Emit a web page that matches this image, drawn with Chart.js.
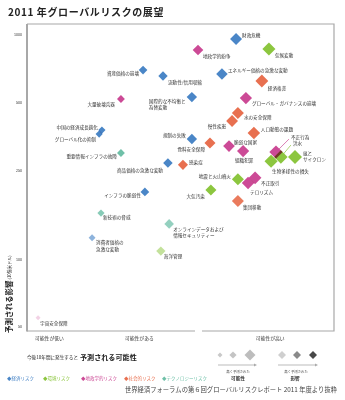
<!DOCTYPE html>
<html><head><meta charset="utf-8">
<script src="https://cdn.jsdelivr.net/npm/chart.js@4.4.1/dist/chart.umd.min.js"></script>
<style>html,body{margin:0;padding:0;background:#fff;overflow:hidden}#wrap{position:relative;width:345px;height:400px}</style>
</head><body><div id="wrap"><canvas id="c" width="345" height="400"></canvas></div>
<script>
// ---------- data ----------
const categories = ['経済リスク','環境リスク','地政学的リスク','社会的リスク','テクノロジーリスク'];

const economicRisks = ['財政危機','エネルギー価格の急激な変動','資産価格の崩壊','流動性/信用収縮','国際的な不均衡と\n為替変動','中国の経済成長鈍化','グローバル化の抑制','規制の失敗','商品価格の急激な変動','インフラの脆弱性','消費者価格の\n急激な変動'];
const economicLikelihood = [68.1,63.5,37.8,44.3,53.7,24.4,23.5,53.7,45.9,38.4,21.2];
const economicImpact = [960,670,698,657,529,377,362,344,269,200,125];

const environmentalRisks = ['気候変動','嵐と\nサイクロン','洪水','生物多様性の損失','地震と火山噴火','大気汚染','海洋管理'];
const environmentalLikelihood = [78.8,87.3,82.7,79.5,68.7,59.9,43.6];
const environmentalImpact = [866,286,286,274,228,204,109];

const geopoliticalRisks = ['地政学的紛争','グローバル・ガバナンスの崩壊','大量破壊兵器','脆弱な国家','組織犯罪','不正行為','不正取引','テロリズム','宇宙安全保障'];
const geopoliticalLikelihood = [55.7,71.3,30.6,65.8,70.4,81.1,74.3,72.0,3.6];
const geopoliticalImpact = [858,524,519,320,304,301,231,219,55];

const societalRisks = ['経済格差','水の安全保障','慢性疾患','人口動態の課題','食料安全保障','感染症','集団移動'];
const societalLikelihood = [76.5,68.7,66.8,73.9,59.6,50.8,68.7];
const societalImpact = [624,449,414,366,330,264,182];

const technologicalRisks = ['重要情報インフラの故障','新技術の脅威','オンラインデータおよび\n情報セキュリティー'];
const technologicalLikelihood = [30.6,24.1,46.3];
const technologicalImpact = [298,161,144];

const impactTicks = [50,100,250,500,1000];
const likelihoodTickLabels = ['可能性が低い','可能性がある','可能性が高い'];
const likelihoodTickValues = [7.3,36.6,79.2];

// ---------- layout / style (not data) ----------
const FONT = '"Noto Sans CJK JP","Noto Sans",sans-serif';
const baseColors = [[74,134,199],[140,198,63],[204,74,150],[232,112,80],[111,192,168]];
// label placement: [dx, dy, align, leader]
const placements = [
  [[6,-4,'l'],[6,-4,'l'],[-4,3,'r'],[5,6,'l'],[-43,4,'l'],[-4,-3,'r'],[-3,5,'r'],[-6,-4,'r'],[-5,7,'r'],[-4,3,'r'],[4,5,'l']],
  [[6,6,'l'],[8,-4,'l'],[12,-14,'l',1],[1,10,'l'],[-7,-3,'r'],[-6,6,'r'],[3,5,'l']],
  [[5,6,'l'],[6,5,'l'],[-6,5,'r'],[5,-4,'l'],[1,9,'c'],[15,-15,'l',1],[6,5,'l'],[2,9,'l'],[2,6,'l']],
  [[6,7,'l'],[6,4,'l'],[-6,5,'r'],[7,-4,'l'],[-5,6,'r'],[6,-3,'l'],[5,6,'l']],
  [[-4,3,'r'],[2,4,'l'],[4,5,'l']]
];

const names = [economicRisks,environmentalRisks,geopoliticalRisks,societalRisks,technologicalRisks];
const xs = [economicLikelihood,environmentalLikelihood,geopoliticalLikelihood,societalLikelihood,technologicalLikelihood];
const ys = [economicImpact,environmentalImpact,geopoliticalImpact,societalImpact,technologicalImpact];

function shade(ci, v){
  const w = Math.max(0.25, Math.min(1, (Math.log10(v)-1.75)/(2.3-1.75)));
  const c = baseColors[ci];
  return `rgba(${c[0]},${c[1]},${c[2]},${w.toFixed(3)})`;
}

const datasets = categories.map((cat,ci)=>({
  label: cat,
  data: names[ci].map((n,i)=>({x: xs[ci][i], y: ys[ci][i]})),
  pointStyle: 'rectRot',
  pointRadius: ctx => 2.3 + 0.054*ctx.raw.x,
  pointHoverRadius: ctx => 2.3 + 0.054*ctx.raw.x,
  backgroundColor: ctx => shade(ci, ctx.raw.y),
  borderWidth: 0
}));

function diamond(ctx,x,y,r,color){
  ctx.beginPath();ctx.moveTo(x-r,y);ctx.lineTo(x,y-r);ctx.lineTo(x+r,y);ctx.lineTo(x,y+r);ctx.closePath();
  ctx.fillStyle=color;ctx.fill();
}
function arrow(ctx,x1,x2,y){
  ctx.strokeStyle='#aaa';ctx.lineWidth=0.8;ctx.beginPath();ctx.moveTo(x1,y);ctx.lineTo(x2-2,y);ctx.stroke();
  ctx.fillStyle='#aaa';ctx.beginPath();ctx.moveTo(x2,y);ctx.lineTo(x2-3,y-1.6);ctx.lineTo(x2-3,y+1.6);ctx.closePath();ctx.fill();
}

const plugin = {
  id:'deco',
  beforeDatasetsDraw(chart){
    const ctx=chart.ctx, a=chart.chartArea;
    ctx.save();
    ctx.strokeStyle='#a8a8a8';ctx.lineWidth=1.2;
    ctx.beginPath();
    ctx.moveTo(a.left,a.top);ctx.lineTo(a.right,a.top);ctx.lineTo(a.right,a.bottom);ctx.lineTo(202,a.bottom);
    ctx.moveTo(195,a.bottom);ctx.lineTo(a.left,a.bottom);
    ctx.stroke();
    ctx.lineWidth=2;ctx.beginPath();ctx.moveTo(a.left,a.top);ctx.lineTo(a.left,a.bottom+0.5);ctx.stroke();
    ctx.restore();
    ctx.save();ctx.globalCompositeOperation='multiply';
  },
  afterDatasetsDraw(chart){
    const ctx=chart.ctx;
    ctx.restore();
    ctx.save();
    ctx.font=`4.6px ${FONT}`;ctx.fillStyle='#333';ctx.textBaseline='middle';
    chart.data.datasets.forEach((ds,ci)=>{
      const meta=chart.getDatasetMeta(ci);
      meta.data.forEach((pt,i)=>{
        const p=placements[ci][i];
        const lines=names[ci][i].split('\n');
        if(p[3]){
          const c=baseColors[ci];
          ctx.strokeStyle=`rgb(${c[0]},${c[1]},${c[2]})`;ctx.lineWidth=0.7;
          ctx.beginPath();ctx.moveTo(pt.x,pt.y);ctx.lineTo(pt.x+p[0]-2,pt.y+p[1]+2);ctx.stroke();
        }
        ctx.textAlign = p[2]==='l'?'left':(p[2]==='r'?'right':'center');
        lines.forEach((ln,k)=>ctx.fillText(ln, pt.x+p[0], pt.y+p[1]+k*6.5));
      });
    });
    ctx.restore();
  },
  afterDraw(chart){
    const ctx=chart.ctx, a=chart.chartArea;
    const xs_=chart.scales.x, ys_=chart.scales.y;
    ctx.save();
    // title
    ctx.textBaseline='middle';ctx.textAlign='left';ctx.fillStyle='#222';
    ctx.font=`bold 10px ${FONT}`;
    if('letterSpacing' in ctx) ctx.letterSpacing='0.6px';
    ctx.fillText('2011 年グローバルリスクの展望',8,12);
    if('letterSpacing' in ctx) ctx.letterSpacing='0px';
    // axis tick labels through scales
    ctx.fillStyle='#333';
    ctx.font=`3.6px ${FONT}`;ctx.textAlign='right';
    impactTicks.forEach(v=>ctx.fillText(String(v),a.left-5,ys_.getPixelForValue(v)));
    ctx.font=`4.8px ${FONT}`;ctx.textAlign='center';
    likelihoodTickValues.forEach((v,i)=>ctx.fillText(likelihoodTickLabels[i],xs_.getPixelForValue(v),338));
    ctx.restore();
    // y axis title
    ctx.save();
    ctx.translate(9,333);ctx.rotate(-Math.PI/2);
    ctx.textBaseline='middle';ctx.textAlign='left';ctx.fillStyle='#222';
    ctx.font=`bold 7.5px ${FONT}`;ctx.fillText('予測される影響',0,0);
    const w=ctx.measureText('予測される影響').width;
    ctx.font=`4.2px ${FONT}`;ctx.fillText('(10億米ドル)',w+1,0.3);
    ctx.restore();
    ctx.save();
    ctx.textBaseline='middle';ctx.textAlign='left';ctx.fillStyle='#222';
    // bottom caption
    ctx.font=`4.6px ${FONT}`;ctx.fillText('今後10年間に発生すると',27,357.5);
    ctx.font=`bold 7.1px ${FONT}`;ctx.fillText('予測される可能性',80,357);
    // legend
    const lx=[7,43,81,124,162];
    ctx.font=`4.5px ${FONT}`;
    categories.forEach((c,i)=>{const b=baseColors[i];ctx.fillStyle=`rgb(${b[0]},${b[1]},${b[2]})`;ctx.fillText('◆'+c,lx[i],378);});
    // source
    ctx.fillStyle='#444';ctx.textAlign='right';ctx.font=`6.3px ${FONT}`;
    ctx.fillText('世界経済フォーラムの第６回グローバルリスクレポート 2011 年度より抜粋',337,390);
    // size legend
    diamond(ctx,220,355,2.5,'#c9c9c9');diamond(ctx,233,355,3.6,'#c4c4c4');diamond(ctx,250,355,5.5,'#bdbdbd');
    diamond(ctx,282,355,4,'#cfcfcf');diamond(ctx,297,355,4,'#8a8a8a');diamond(ctx,313,355,4,'#484848');
    arrow(ctx,218,257,365);arrow(ctx,278,318,365);
    ctx.fillStyle='#333';ctx.textAlign='center';
    ctx.font=`3.4px ${FONT}`;ctx.fillText('高く予測された',238,372);ctx.fillText('高く予測された',296,372);
    ctx.font=`bold 4.6px ${FONT}`;ctx.fillText('可能性',238,378);ctx.fillText('影響',295,378);
    ctx.restore();
  }
};

new Chart(document.getElementById('c'),{
  type:'scatter',
  data:{datasets},
  plugins:[plugin],
  options:{
    responsive:false,animation:false,devicePixelRatio:1,
    layout:{padding:{left:8,right:11,top:24,bottom:57}},
    plugins:{legend:{display:false},tooltip:{enabled:false},title:{display:false}},
    scales:{
      x:{type:'linear',min:0,max:100,grid:{display:false},border:{display:false},
        afterBuildTicks:s=>{s.ticks=likelihoodTickValues.map(v=>({value:v}));},
        afterFit:s=>{s.height=12;},
        ticks:{display:false}},
      y:{type:'logarithmic',min:48,max:1120,grid:{display:false},border:{display:false},
        afterBuildTicks:s=>{s.ticks=impactTicks.map(v=>({value:v}));},
        afterFit:s=>{s.width=19;},
        ticks:{display:false}}
    }
  }
});
</script></body></html>
